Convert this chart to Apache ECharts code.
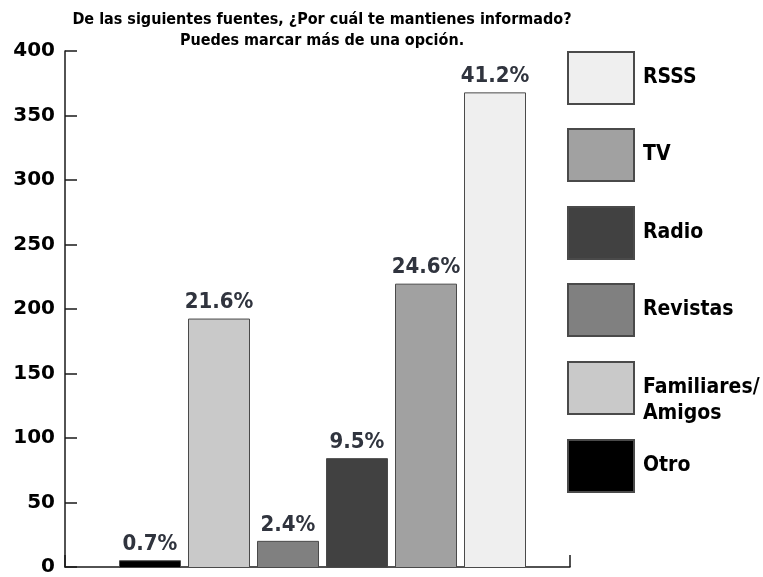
<!DOCTYPE html>
<html>
<head>
<meta charset="utf-8">
<style>
  html, body { margin: 0; padding: 0; background: #fff; }
  #chart { width: 763px; height: 577px; }
</style>
<script src="https://cdn.jsdelivr.net/npm/echarts@6/dist/echarts.min.js"></script>
</head>
<body>
<div id="chart"></div>
<script>
// Survey answers: how people keep informed (multiple choice)
const categories = ['Otro', 'Familiares/\nAmigos', 'Revistas', 'Radio', 'TV', 'RSSS'];
const counts = [6, 193, 21, 85, 220, 368];
const percentLabels = ['0.7%', '21.6%', '2.4%', '9.5%', '24.6%', '41.2%'];
const colors = ['#000000', '#c9c9c9', '#808080', '#414141', '#a1a1a1', '#efefef'];
const legendOrder = ['RSSS', 'TV', 'Radio', 'Revistas', 'Familiares/\nAmigos', 'Otro'];
const legendTops = [51, 128, 206, 283, 349, 439];
const yTicks = [0, 50, 100, 150, 200, 250, 300, 350, 400];

const FONT = 'DejaVu Sans Condensed';

// One series per source so each gets its own legend entry;
// they share a stack so every bar sits centred in its category.
const series = categories.map((name, i) => ({
  name: name,
  type: 'bar',
  xAxisIndex: 1,
  yAxisIndex: 1,
  stack: 'fuentes',
  barWidth: 62,
  data: categories.map((_, j) => (j === i ? counts[i] : '-')),
  itemStyle: { color: colors[i], borderColor: '#4a4a4a', borderWidth: 1 },
  label: {
    show: true,
    position: 'top',
    distance: 5,
    formatter: () => percentLabels[i],
    fontFamily: FONT,
    fontSize: 22,
    fontWeight: 'bold',
    color: '#30343e'
  },
  emphasis: { disabled: true }
}));

// One legend block per source, stacked down the right side
const legends = legendOrder.map((name, k) => ({
  orient: 'vertical',
  left: 567,
  top: legendTops[k],
  padding: 0,
  icon: 'rect',
  itemWidth: 66,
  itemHeight: 52,
  data: [name],
  selectedMode: false,
  // two-line entry: first line level with the swatch, second below it
  formatter: (n) => (n.indexOf('\n') >= 0 ? '\n' + n : n),
  textStyle: {
    fontFamily: FONT,
    fontSize: 21,
    fontWeight: 'bold',
    color: '#000',
    padding: [0, 0, 0, 4],
    lineHeight: 26
  }
}));

const chart = echarts.init(document.getElementById('chart'), null, { renderer: 'canvas' });
chart.setOption({
  animation: false,
  backgroundColor: '#ffffff',
  title: {
    text: 'De las siguientes fuentes, ¿Por cuál te mantienes informado?\nPuedes marcar más de una opción.',
    left: 322,
    textAlign: 'center',
    top: 9,
    padding: 0,
    textStyle: {
      fontFamily: FONT,
      fontSize: 16,
      fontWeight: 'bold',
      color: '#000',
      lineHeight: 21
    }
  },
  legend: legends,
  grid: [
    { left: 65, width: 505, top: 51, bottom: 9 },
    { left: 115.5, width: 414, top: 51, bottom: 9 }
  ],
  xAxis: [
    {
      type: 'value',
      gridIndex: 0,
      min: 0,
      max: 1,
      interval: 1,
      axisLine: { show: true, lineStyle: { color: '#1a1a1a', width: 1.5 } },
      axisTick: { show: true, inside: true, length: 12, lineStyle: { color: '#1a1a1a', width: 1.5 } },
      axisLabel: { show: false },
      splitLine: { show: false }
    },
    {
      type: 'category',
      gridIndex: 1,
      data: categories,
      show: false
    }
  ],
  yAxis: [
    {
      type: 'value',
      gridIndex: 0,
      min: yTicks[0],
      max: yTicks[yTicks.length - 1],
      interval: 50,
      axisLine: { show: true, lineStyle: { color: '#1a1a1a', width: 1.5 } },
      axisTick: { show: true, inside: true, length: 12, lineStyle: { color: '#1a1a1a', width: 1.5 } },
      axisLabel: {
        fontFamily: 'DejaVu Sans',
        fontSize: 20,
        fontWeight: 'bold',
        color: '#000',
        margin: 10
      },
      splitLine: { show: false }
    },
    {
      type: 'value',
      gridIndex: 1,
      min: yTicks[0],
      max: yTicks[yTicks.length - 1],
      show: false,
      splitLine: { show: false }
    }
  ],
  series: series
});
</script>
</body>
</html>
